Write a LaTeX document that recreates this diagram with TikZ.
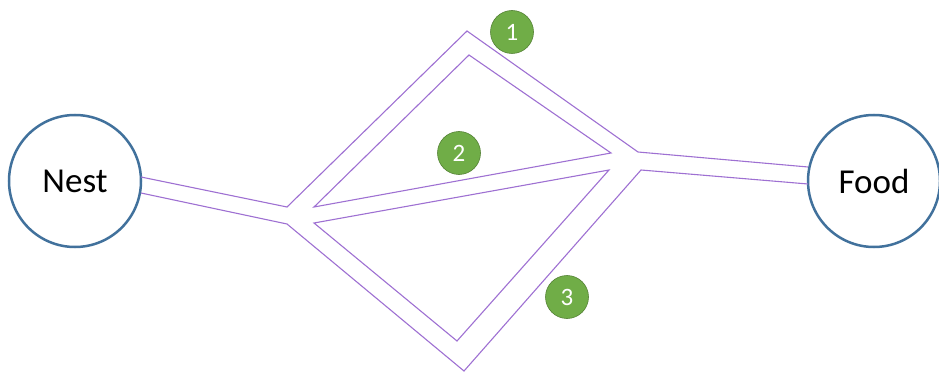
\documentclass[tikz,border=0pt]{standalone}
\usepackage{fontspec}
\setmainfont{Carlito}
\definecolor{ringblue}{HTML}{41719C}
\definecolor{trail}{HTML}{9E70D2}
\definecolor{badgefill}{HTML}{70AD47}
\definecolor{badgeline}{HTML}{548235}
\begin{document}
\begin{tikzpicture}[x=1pt,y=-1pt,
  place/.style={circle, draw=ringblue, line width=2.5pt, fill=white,
    minimum size=132pt, inner sep=0pt, font=\fontsize{35}{42}\selectfont},
  badge/.style={circle, draw=badgeline, line width=0.6pt, fill=badgefill,
    minimum size=43pt, inner sep=0pt, text=white, font=\fontsize{25}{30}\selectfont},
  trailline/.style={draw=trail, line width=1.1pt, line join=miter}]
\useasboundingbox (0,0) rectangle (939,374);

% nest and food sites
\node[place] (nest) at (75,181) {Nest};
\node[place] (food) at (874,181) {Food};

% corners of the branching trail
\coordinate (nu) at (141,177);
\coordinate (nl) at (141,193);
\coordinate (fu) at (808,167);
\coordinate (fl) at (808,184);
\coordinate (j1) at (287,207);
\coordinate (j3) at (287,224);
\coordinate (top) at (467,31);
\coordinate (bot) at (464,371);
\coordinate (j2) at (638,152);
\coordinate (j4) at (641,170);
\coordinate (t1) at (314,207);
\coordinate (t2) at (469,55);
\coordinate (t3) at (611,153);
\coordinate (b1) at (314,223);
\coordinate (b2) at (609,170);
\coordinate (b3) at (457,341);

% outer walls
\draw[trailline] (nu) -- (j1) -- (top) -- (j2) -- (fu);
\draw[trailline] (nl) -- (j3) -- (bot) -- (j4) -- (fl);
% inner islands
\draw[trailline] (t1) -- (t2) -- (t3) -- cycle;
\draw[trailline] (b1) -- (b2) -- (b3) -- cycle;

% route numbers
\node[badge] (r1) at (512,32) {1};
\node[badge] (r2) at (459,153) {2};
\node[badge] (r3) at (567,297) {3};
\end{tikzpicture}
\end{document}
